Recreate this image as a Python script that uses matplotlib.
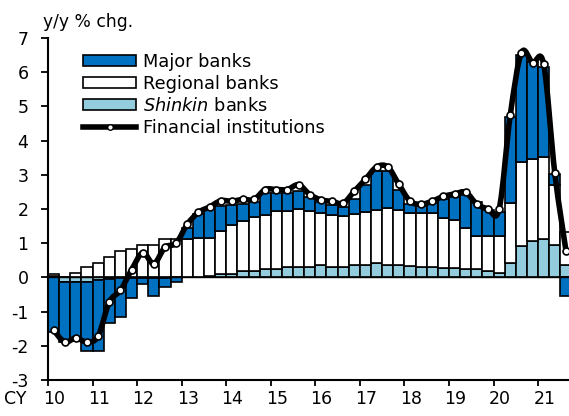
import numpy as np
import matplotlib
matplotlib.use("Agg")
import matplotlib.pyplot as plt
from matplotlib.path import Path
from matplotlib.patches import PathPatch, Patch
from matplotlib.lines import Line2D

plt.rcParams['font.family'] = ['DejaVu Sans']
plt.rcParams['mathtext.fontset'] = 'dejavusans'
plt.rcParams['axes.unicode_minus'] = False

# ---- data (quarterly, CY2010 Q1 .. CY2021 Q3) ----
years = list(range(2010, 2022))
year_labels = ["10", "11", "12", "13", "14", "15", "16", "17", "18", "19", "20", "21"]

shinkin = [0.03, -0.12, -0.12, -0.12,
           -0.08, -0.04, -0.03, -0.02,
           -0.02, -0.02, -0.01, 0.00,
           0.00, 0.01, 0.04, 0.10,
           0.10, 0.18, 0.18, 0.25,
           0.25, 0.31, 0.31, 0.31,
           0.35, 0.30, 0.30, 0.36,
           0.36, 0.42, 0.37, 0.36,
           0.34, 0.29, 0.29, 0.28,
           0.28, 0.25, 0.25, 0.20,
           0.14, 0.41, 0.93, 1.06,
           1.11, 0.94, 0.35]

regional = [0.06, 0.02, 0.14, 0.30,
            0.43, 0.61, 0.77, 0.82,
            0.94, 0.94, 1.12, 1.11,
            1.12, 1.13, 1.12, 1.27,
            1.42, 1.46, 1.58, 1.56,
            1.68, 1.62, 1.69, 1.64,
            1.52, 1.52, 1.50, 1.49,
            1.55, 1.56, 1.67, 1.62,
            1.53, 1.58, 1.58, 1.47,
            1.41, 1.19, 0.95, 1.00,
            1.06, 1.76, 2.45, 2.39,
            2.40, 1.76, 0.97]

major = [-1.59, -1.78, -1.73, -2.04,
         -2.08, -1.28, -1.13, -0.58,
         -0.18, -0.51, -0.27, -0.13,
         0.33, 0.71, 0.84, 0.73,
         0.60, 0.52, 0.44, 0.65,
         0.53, 0.53, 0.54, 0.40,
         0.33, 0.30, 0.25, 0.45,
         0.79, 1.12, 1.06, 0.57,
         0.28, 0.23, 0.30, 0.53,
         0.66, 0.98, 1.00, 0.77,
         0.72, 2.53, 3.12, 2.85,
         2.64, 0.32, -0.53]

financial = [-1.54, -1.89, -1.77, -1.89,
             -1.72, -0.72, -0.38, 0.22,
             0.72, 0.40, 0.88, 1.00,
             1.55, 1.90, 2.06, 2.24,
             2.23, 2.28, 2.28, 2.57,
             2.57, 2.57, 2.71, 2.42,
             2.27, 2.22, 2.17, 2.52,
             2.87, 3.23, 3.23, 2.72,
             2.23, 2.14, 2.23, 2.37,
             2.44, 2.49, 2.14, 2.01,
             2.00, 4.75, 6.57, 6.28,
             6.23, 3.04, 0.78]

n = len(financial)
x = 2010 + 0.125 + 0.25 * np.arange(n)

c_major = '#0070C0'
c_regional = '#FFFFFF'
c_shinkin = '#93CDDD'

fig = plt.figure(figsize=(5.69, 4.16), dpi=100)
ax = fig.add_axes([48 / 569, 1 - 380 / 416, 1 - 48 / 569, (380 - 38) / 416])

pos = np.zeros(n)
neg = np.zeros(n)
for vals, col in [(shinkin, c_shinkin), (regional, c_regional), (major, c_major)]:
    v = np.array(vals)
    bottoms = np.where(v >= 0, pos, neg)
    ax.bar(x, v, bottom=bottoms, width=0.25, color=col, edgecolor='black',
           linewidth=1.2, zorder=2)
    pos += np.clip(v, 0, None)
    neg += np.clip(v, None, 0)

ax.axhline(0, color='black', lw=1.0, zorder=2.5)

# smoothed line (Catmull-Rom Bezier through the data points)
pts = np.column_stack([x, np.array(financial)])
verts = [tuple(pts[0])]
codes = [Path.MOVETO]
for i in range(n - 1):
    p0 = pts[max(i - 1, 0)]
    p1 = pts[i]
    p2 = pts[i + 1]
    p3 = pts[min(i + 2, n - 1)]
    c1 = p1 + (p2 - p0) / 6.0
    c2 = p2 - (p3 - p1) / 6.0
    verts += [tuple(c1), tuple(c2), tuple(p2)]
    codes += [Path.CURVE4] * 3
ax.add_patch(PathPatch(Path(verts, codes), facecolor='none', edgecolor='black',
                       lw=4.0, zorder=3, capstyle='round', joinstyle='round'))
ax.plot(x, financial, linestyle='none', marker='o', markersize=5,
        markerfacecolor='white', markeredgecolor='black', markeredgewidth=1.2,
        zorder=4)

ax.set_xlim(2010, 2010 + (569 - 47.5) / 44.6)
ax.set_ylim(-3, 7)

for s in ['top', 'right']:
    ax.spines[s].set_visible(False)
for s in ['left', 'bottom']:
    ax.spines[s].set_linewidth(1.5)
    ax.spines[s].set_zorder(5)

ax.set_yticks(range(-3, 8))
ax.tick_params(axis='y', direction='out', length=5, width=1.3, pad=9, labelsize=12.5)
ax.set_xticks(years)
ax.set_xticklabels([])
ax.set_xticks([yy + 0.14 for yy in years], minor=True)
ax.set_xticklabels(year_labels, minor=True)
ax.tick_params(axis='x', which='major', direction='out', length=4, width=1.3)
ax.tick_params(axis='x', which='minor', length=0, pad=7.5, labelsize=12.5)

fig.text(4 / 569, 1 - (380 + 7.5 * 100 / 72) / 416, "CY", fontsize=12.5, va='top', ha='left')
fig.text(43 / 569, 1 - 27 / 416, "y/y % chg.", fontsize=12.3, va='baseline', ha='left')

handles = [Patch(facecolor=c_major, edgecolor='black', linewidth=1.2),
           Patch(facecolor=c_regional, edgecolor='black', linewidth=1.2),
           Patch(facecolor=c_shinkin, edgecolor='black', linewidth=1.2),
           Line2D([], [], color='black', lw=4, marker='o', markersize=4,
                  markerfacecolor='white', markeredgecolor='black')]
labels = ["Major banks", "Regional banks", r"$\it{Shinkin}$ banks", "Financial institutions"]
leg = ax.legend(handles, labels, loc='upper left',
                bbox_to_anchor=(83 / 569, 1 - 53 / 416), bbox_transform=fig.transFigure,
                frameon=False, fontsize=12.8, handlelength=3.0, handleheight=0.55,
                handletextpad=0.35, labelspacing=0.22, borderpad=0, borderaxespad=0,
                numpoints=1)

fig.savefig("out.png", dpi=100)
